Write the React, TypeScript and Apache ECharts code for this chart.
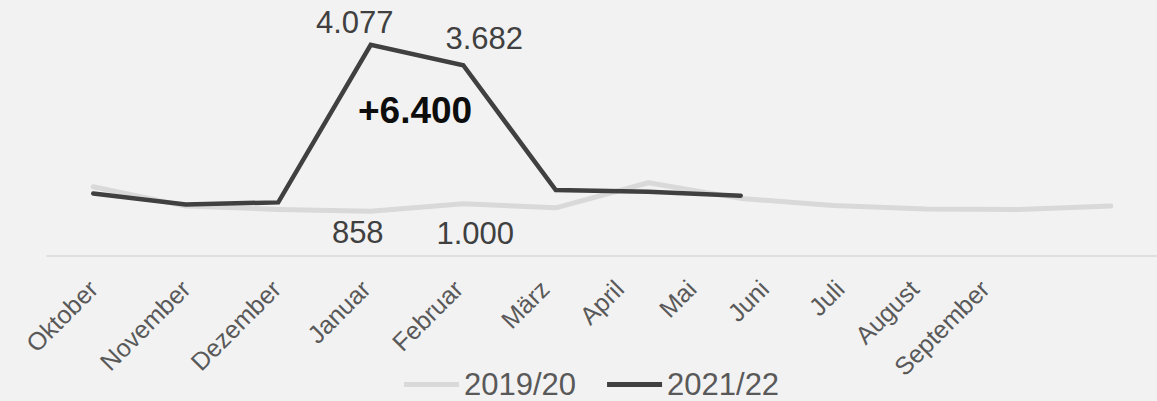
import React, { useEffect, useRef } from "react";
import * as echarts from "echarts";

const months = ["Oktober", "November", "Dezember", "Januar", "Februar", "März", "April", "Mai", "Juni", "Juli", "August", "September"];
const series1920 = [1330, 956, 892, 858, 1000, 923, 1408, 1105, 970, 898, 892, 956];
const series2122 = [1202, 989, 1028, 4077, 3682, 1266, 1233, 1156];
const labels1920: Record<number, [number, number]> = { 3: [-13, 21], 4: [12, 30] };
const labels2122: Record<number, [number, number]> = { 3: [-16, -22], 4: [21, -27] };
const annotation = "+6.400";

// horizontal shift (px, to the left) of each rotated month label
const labelShift = [0, 0, 2, 5, 5, 11, 29, 49, 69, 86, 104, 126];

const FONT = "Liberation Sans, Arial, sans-serif";
const fmt = (v: number) => v.toLocaleString("de-DE");

function build(values: number[], labelMap: Record<number, [number, number]>) {
  return values.map((v, i) => {
    const off = labelMap[i];
    if (!off) return v;
    return {
      value: v,
      label: {
        show: true,
        position: "inside",
        offset: off,
        formatter: () => fmt(v),
        fontSize: 31,
        color: "#404040",
        fontFamily: FONT,
      },
    };
  });
}

export default function App() {
  const ref = useRef<HTMLDivElement>(null);
  useEffect(() => {
    const chart = echarts.init(ref.current!, null, { renderer: "svg" });
    const rich: Record<string, any> = {};
    labelShift.forEach((s, i) => {
      const p = s / Math.SQRT2;
      rich["m" + i] = {
        fontSize: 25,
        color: "#595959",
        fontFamily: FONT,
        verticalAlign: "bottom",
        padding: [0, p, 2 * p, 0],
      };
    });
    chart.setOption({
      animation: false,
      backgroundColor: "#f2f2f2",
      textStyle: { fontFamily: FONT },
      grid: { left: 47, right: 0, top: 23, bottom: 145.5, containLabel: false },
      xAxis: {
        type: "category",
        data: months,
        boundaryGap: true,
        axisLine: { lineStyle: { color: "#d9d9d9", width: 1.5 } },
        axisTick: { show: false },
        axisLabel: {
          rotate: 45,
          fontSize: 25,
          color: "#595959",
          margin: 29,
          interval: 0,
          formatter: (val: string, idx: number) => `{m${idx}|${val}}`,
          rich,
        },
      },
      yAxis: {
        type: "value",
        min: 0,
        max: 4500,
        show: false,
        splitLine: { show: false },
      },
      legend: {
        bottom: -4,
        left: 399,
        itemGap: 31,
        itemWidth: 55,
        itemHeight: 5,
        icon: "rect",
        textStyle: { fontSize: 31, color: "#595959", fontFamily: FONT },
        data: ["2019/20", "2021/22"],
      },
      series: [
        {
          name: "2019/20",
          type: "line",
          data: build(series1920, labels1920),
          symbol: "circle",
          symbolSize: 1,
          showSymbol: true,
          itemStyle: { color: "#d9d9d9" },
          lineStyle: { color: "#d9d9d9", width: 5, cap: "round", join: "round" },
          z: 2,
        },
        {
          name: "2021/22",
          type: "line",
          data: build(series2122, labels2122),
          symbol: "circle",
          symbolSize: 1,
          showSymbol: true,
          itemStyle: { color: "#404040" },
          lineStyle: { color: "#404040", width: 4.5, cap: "round", join: "miter" },
          z: 3,
        },
      ],
      graphic: [
        {
          type: "text",
          left: 358,
          top: 92,
          style: {
            text: annotation,
            fontSize: 37,
            fontWeight: "bold",
            fill: "#0d0d0d",
            fontFamily: FONT,
          },
        },
      ],
    });
    return () => chart.dispose();
  }, []);
  return <div ref={ref} style={{ width: 1157, height: 401, position: "absolute", left: 0, top: 0 }} />;
}
